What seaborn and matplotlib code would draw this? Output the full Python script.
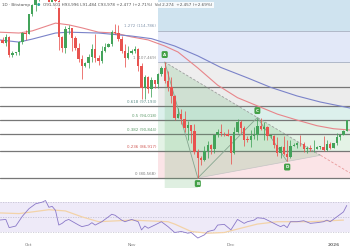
import matplotlib
matplotlib.use("Agg")
import matplotlib.pyplot as plt
import matplotlib.dates as mdates
import numpy as np
import pandas as pd
import seaborn as sns

# ---------------- data ----------------
dates = pd.date_range("2025-09-22", "2026-01-05", freq="D")

opens_k = [115.3, 112.7, 112.0, 113.3, 109.0, 109.6, 109.7, 112.1, 114.3,
           114.0, 118.6, 120.6, 122.3, 122.4, 123.5, 124.7, 121.4, 123.3, 121.7,
           113.2, 110.7, 115.2, 115.3, 113.1, 110.8, 108.2, 106.5, 107.2, 108.6,
           110.6, 108.5, 107.6, 110.1, 111.0, 111.6, 114.5, 114.1, 112.9, 110.1, 108.3,
           109.6, 110.1, 110.6, 106.5, 101.5, 103.9, 101.3, 103.3, 102.3, 104.7,
           106.0, 103.0, 101.6, 99.7, 94.5, 95.5, 94.2, 92.2, 92.9, 91.5,
           86.6, 85.1, 84.7, 86.8, 88.3, 87.4, 90.5, 91.3, 90.9, 90.8,
           90.4, 86.3, 91.3, 93.5, 92.1, 89.4, 89.3, 90.4, 90.6, 92.7,
           92.0, 92.5, 90.3, 90.3, 88.2, 86.4, 87.8, 86.1, 85.5, 88.1,
           88.3, 88.6, 88.5, 87.4, 87.6, 87.2, 87.3, 87.8, 87.8, 87.1, 88.4,
           87.5, 88.7, 90.0, 90.6, 91.501]
highs_k = [115.4, 113.3, 113.9, 113.5, 110.0, 109.8, 112.3, 114.4, 114.8,
           118.6, 121.0, 123.9, 122.9, 125.5, 126.2, 125.1, 124.1, 123.7, 122.5,
           113.5, 115.8, 116.0, 115.4, 113.6, 111.8, 109.2, 107.5, 109.4, 111.7,
           114.0, 109.2, 111.2, 112.0, 111.9, 115.0, 116.3, 116.0, 113.6, 111.6, 111.2,
           110.5, 111.2, 110.8, 107.3, 104.5, 104.2, 104.0, 103.4, 105.0, 106.6,
           107.469, 105.3, 104.0, 99.8, 96.8, 96.6, 96.0, 93.8, 92.9, 93.1,
           87.4, 85.6, 88.0, 89.2, 88.5, 90.6, 91.9, 93.0, 91.2, 92.0,
           90.4, 92.3, 94.2, 94.1, 92.7, 90.3, 91.8, 92.3, 94.6, 94.5,
           93.5, 92.7, 90.6, 90.5, 90.0, 88.1, 90.3, 89.4, 89.3, 88.6,
           89.0, 90.5, 88.9, 88.0, 88.3, 89.5, 88.0, 88.0, 90.3, 89.3, 89.0,
           88.8, 90.9, 90.8, 91.8, 93.996]
lows_k = [112.0, 111.8, 111.1, 108.7, 108.6, 109.1, 109.2, 111.6, 112.7,
          113.9, 118.2, 119.4, 121.7, 122.0, 123.1, 120.6, 121.1, 119.9, 110.3,
          109.7, 109.6, 113.9, 110.0, 110.2, 107.5, 103.5, 106.4, 106.1, 107.5,
          107.4, 106.7, 107.3, 109.7, 110.9, 111.3, 114.0, 112.3, 109.6, 106.3, 108.1,
          109.4, 109.6, 105.3, 98.9, 98.9, 100.3, 99.3, 101.5, 101.4, 104.3,
          102.5, 100.8, 98.0, 94.0, 94.5, 93.0, 91.2, 89.3, 88.6, 86.2,
          80.568, 83.5, 84.6, 85.3, 86.1, 86.3, 90.1, 90.2, 90.3, 90.3,
          83.8, 86.2, 91.0, 90.9, 88.1, 88.9, 87.7, 89.6, 89.5, 91.6,
          89.3, 89.5, 89.8, 87.6, 85.6, 85.3, 85.9, 84.4, 85.2, 87.9,
          87.6, 87.9, 86.6, 86.4, 86.9, 86.7, 87.2, 87.4, 86.8, 86.8, 87.2,
          87.5, 88.3, 89.3, 90.5, 91.484]
closes_k = [112.7, 112.0, 113.3, 109.0, 109.6, 109.7, 112.1, 114.3, 114.0,
            118.6, 120.6, 122.3, 122.4, 123.5, 124.7, 121.4, 123.3, 121.7, 113.2,
            110.7, 115.2, 115.3, 113.1, 110.8, 108.2, 106.5, 107.2, 108.6, 110.6,
            108.5, 107.6, 110.1, 111.0, 111.6, 114.5, 114.1, 112.9, 110.1, 108.3, 109.6,
            110.1, 110.6, 106.5, 101.5, 103.9, 101.3, 103.3, 102.3, 104.7, 106.0,
            103.0, 101.6, 99.7, 94.5, 95.5, 94.2, 92.2, 92.9, 91.5, 86.6,
            85.1, 84.7, 86.8, 88.3, 87.4, 90.5, 91.3, 90.9, 90.8, 90.4,
            86.3, 91.3, 93.5, 92.1, 89.4, 89.3, 90.4, 90.6, 92.7, 92.0,
            92.5, 90.3, 90.3, 88.2, 86.4, 87.8, 86.1, 85.5, 88.1, 88.3,
            88.6, 88.5, 87.4, 87.6, 87.2, 87.3, 87.8, 87.8, 87.1, 88.4, 87.5,
            88.7, 90.0, 90.6, 91.5, 93.978]

ema_fast_dates = ["2025-09-22", "2025-09-28", "2025-10-02", "2025-10-09", "2025-10-13",
                  "2025-10-17", "2025-10-22", "2025-10-27", "2025-11-01", "2025-11-06",
                  "2025-11-11", "2025-11-15", "2025-11-21", "2025-11-27", "2025-12-03",
                  "2025-12-09", "2025-12-15", "2025-12-21", "2025-12-27", "2026-01-01",
                  "2026-01-06"]
ema_fast_k = [114.4, 114.2, 114.7, 116.5, 116.1, 115.4, 114.4, 114.2, 113.3, 112.6,
              111.2, 109.8, 106.1, 102.1, 99.2, 97.3, 95.4, 94.0, 92.7, 92.0, 91.7]

ema_slow_dates = ["2025-09-22", "2025-09-28", "2025-10-02", "2025-10-09", "2025-10-13",
                  "2025-10-22", "2025-11-01", "2025-11-07", "2025-11-14", "2025-11-21",
                  "2025-11-28", "2025-12-06", "2025-12-13", "2025-12-21", "2025-12-28",
                  "2026-01-06"]
ema_slow_k = [112.6, 112.1, 112.8, 114.2, 114.4, 114.2, 113.5, 112.9, 111.2, 108.9,
              106.2, 103.8, 101.6, 99.6, 98.2, 96.8]

rsi_dates = ["2025-09-22", "2025-09-24", "2025-09-25", "2025-09-27", "2025-09-29",
             "2025-10-01", "2025-10-03", "2025-10-05", "2025-10-06", "2025-10-07",
             "2025-10-08", "2025-10-09", "2025-10-10", "2025-10-11", "2025-10-12",
             "2025-10-13", "2025-10-16", "2025-10-17", "2025-10-19", "2025-10-20",
             "2025-10-21", "2025-10-23", "2025-10-25", "2025-10-26", "2025-10-27",
             "2025-10-29", "2025-10-30", "2025-11-01", "2025-11-03", "2025-11-04",
             "2025-11-05", "2025-11-06", "2025-11-08", "2025-11-10", "2025-11-12",
             "2025-11-14", "2025-11-16", "2025-11-18", "2025-11-19", "2025-11-21",
             "2025-11-23", "2025-11-24", "2025-11-26", "2025-11-27", "2025-11-29",
             "2025-12-01", "2025-12-03", "2025-12-05", "2025-12-06", "2025-12-08",
             "2025-12-09", "2025-12-11", "2025-12-13", "2025-12-15", "2025-12-16",
             "2025-12-17", "2025-12-18", "2025-12-19", "2025-12-21", "2025-12-23",
             "2025-12-25", "2025-12-27", "2025-12-29", "2025-12-30", "2025-12-31",
             "2026-01-02", "2026-01-04", "2026-01-05"]
rsi_vals = [46.3, 47.2, 36.4, 38.5, 51.4, 61.4, 67.8, 70.0, 72.1, 63.2,
            64.4, 59.2, 39.8, 42.0, 45.5, 47.2, 39.8, 37.7, 39.8, 42.9,
            39.8, 44.2, 50.6, 54.0, 52.7, 46.3, 44.2, 47.2, 44.2, 33.4,
            38.5, 35.6, 39.8, 44.2, 37.7, 30.0, 31.3, 29.1, 30.0, 22.7,
            26.9, 31.3, 33.4, 39.8, 40.7, 33.4, 47.2, 42.0, 44.2, 46.3,
            49.4, 48.5, 44.2, 39.8, 37.7, 39.8, 36.4, 44.2, 44.2, 45.5,
            42.0, 42.9, 44.2, 46.3, 44.2, 50.6, 57.1, 65.6]

rsi_ma_dates = ["2025-09-22", "2025-09-28", "2025-10-02", "2025-10-07", "2025-10-12",
                "2025-10-17", "2025-10-22", "2025-11-01", "2025-11-12", "2025-11-14",
                "2025-11-19", "2025-11-24", "2025-11-29", "2025-12-04", "2025-12-09",
                "2025-12-15", "2025-12-25", "2026-01-04"]
rsi_ma_vals = [55.8, 54.9, 57.1, 60.0, 58.4, 50.6, 44.2, 46.3, 44.2, 41.1,
               31.3, 29.1, 30.0, 35.6, 41.1, 44.2, 44.2, 46.3]

swing_high = 107469   # point A
swing_low = 80568     # point B
fib_ratios = [0, 0.236, 0.382, 0.5, 0.618, 0.786, 1, 1.272]
fib_names = ["0", "0.236", "0.382", "0.5", "0.618", None, "1", "1.272"]
fib_start = "2025-11-09"

pattern_names = ["A", "B", "C", "D"]
pattern_dates = ["2025-11-11", "2025-11-21", "2025-12-09", "2025-12-18"]
pattern_prices = [107469, 80568, 94600, 84400]

month_ticks = ["2025-10-01", "2025-11-01", "2025-12-01", "2026-01-01"]
month_labels = ["Oct", "Nov", "Dec", "2026"]

header_left = "1D · Bitstamp"
header_right = "O91,501 H93,996 L91,484 C93,978 +2,477 (+2.71%)  Vol 2.274  +2,457 (+2.69%)"

# ---------------- styling ----------------
sns.set_theme(style="white")
plt.rcParams["font.family"] = ["DejaVu Sans"]

UP, DOWN = "#43a35a", "#e8534f"
W, H = 350, 250

fig = plt.figure(figsize=(3.5, 2.5), dpi=100)
fig.patch.set_facecolor("white")
ax = fig.add_axes([0, 1 - 188 / H, 1, 188 / H])
axr = fig.add_axes([0, 1 - 240 / H, 1, 46 / H])
for a in (ax, axr):
    a.set_facecolor("white")
    for s in a.spines.values():
        s.set_visible(False)

xn = mdates.date2num(dates)
o = np.array(opens_k) * 1000
h = np.array(highs_k) * 1000
l = np.array(lows_k) * 1000
c = np.array(closes_k) * 1000

oct1 = mdates.date2num(pd.Timestamp("2025-10-01"))
x_lo, x_hi = oct1 - 8.76, oct1 + 96.98
y_lo, y_hi = 78248, 121864

# ---- fib retracement fills ----
rng = swing_high - swing_low
levels = [swing_low + r * rng for r in fib_ratios]
fs = mdates.date2num(pd.Timestamp(fib_start))
fill_cols = ["#fbe4e7", "#e4f3e6", "#e1f2e6", "#dcf0ec", "#ececec", "#eeeeee", "#e2e8f8", "#cfe3ef"]
bounds = levels + [y_hi]
for i in range(len(levels)):
    ax.fill_between([fs, x_hi], bounds[i], bounds[i + 1], color=fill_cols[i], lw=0, zorder=0)

for r, lev, name in zip(fib_ratios, levels, fib_names):
    if r <= 0.786:
        ax.axhline(lev, color="#777777", lw=0.9, zorder=1)
    else:
        ax.plot([fs, x_hi], [lev, lev], color="#b0b8c8", lw=0.7, zorder=1)

label_cols = {"0": "#7a7a7a", "0.236": "#d05a55", "0.382": "#5d9a6a", "0.5": "#5d9a6a",
              "0.618": "#5f8f8a", "1": "#8a8a8a", "1.272": "#8396ad"}
for lev, name in zip(levels, fib_names):
    if name is None:
        continue
    ax.annotate(f"{name} ({lev:,.0f})", xy=(fs, lev), xytext=(-1.5, 1.5),
                textcoords="offset points", ha="right", va="bottom",
                fontsize=2.9, color=label_cols[name], zorder=5)

# ---- triangle pattern ----
px = [mdates.date2num(pd.Timestamp(d)) for d in pattern_dates]
py = pattern_prices
(ax_, ay), (bx, by), (cx, cy), (dx, dy) = zip(px, py)
m1 = (cy - ay) / (cx - ax_)
m2 = (dy - by) / (dx - bx)
apx = (by - ay + m1 * ax_ - m2 * bx) / (m1 - m2)
apy = ay + m1 * (apx - ax_)
ax.fill([ax_, apx, bx, bx, ax_], [ay, apy, by, y_lo, y_lo],
        color="#5fb36a", alpha=0.2, lw=0, zorder=1.5)
ax.plot([ax_, apx], [ay, apy], color="#9e9e9e", lw=0.6, ls=(0, (3, 2)), zorder=2.5)
ax.plot([apx, x_hi], [apy, ay + m1 * (x_hi - ax_)], color="#e99a9a", lw=0.6,
        ls=(0, (3, 2)), zorder=2.5)
ax.plot([bx, apx], [by, apy], color="#c4c4c4", lw=0.5, zorder=2.5)
ax.plot([ax_, bx, cx, dx], [ay, by, cy, dy], color="#86a790", lw=0.6, zorder=2.5)

# ---- moving averages ----
sns.lineplot(x=pd.to_datetime(ema_fast_dates), y=np.array(ema_fast_k) * 1000, ax=ax,
             color="#e8858a", lw=0.8, zorder=2)
sns.lineplot(x=pd.to_datetime(ema_slow_dates), y=np.array(ema_slow_k) * 1000, ax=ax,
             color="#7b83c9", lw=0.8, zorder=2)

# ---- candles ----
cols = np.where(c >= o, UP, DOWN)
ax.vlines(xn, l, h, colors=cols, lw=0.55, zorder=3)
body = np.where(np.abs(c - o) < 180, 180, c - o)
ax.bar(xn, body, bottom=o, width=0.72, color=cols, lw=0, zorder=3.1)

# ---- pattern point labels ----
offsets = {"A": 5.4, "B": -4.0, "C": 5.0, "D": -4.0}
for n, x_, y_ in zip(pattern_names, px, py):
    ax.annotate(n, xy=(x_, y_), xytext=(0, offsets[n]), textcoords="offset points",
                ha="center", va="center", fontsize=3.0, color="white", fontweight="bold",
                bbox=dict(boxstyle="round,pad=0.35", fc="#43a047", ec="none"), zorder=6)

ax.set_xlim(x_lo, x_hi)
ax.set_ylim(y_lo, y_hi)
ax.set_xticks([])
ax.set_yticks([])
ax.set_xlabel("")
ax.set_ylabel("")

# ---- RSI pane ----
axr.axhspan(30, 70, color="#eeeaf8", lw=0, zorder=0)
for lvl in (30, 50, 70):
    axr.axhline(lvl, color="#b7b4c8", lw=0.45, ls=(0, (2, 2)), zorder=1)
sns.lineplot(x=pd.to_datetime(rsi_ma_dates), y=rsi_ma_vals, ax=axr,
             color="#f3d3a8", lw=0.9, zorder=2)
sns.lineplot(x=pd.to_datetime(rsi_dates), y=rsi_vals, ax=axr,
             color="#8a78c8", lw=0.6, zorder=3)
axr.set_xlim(x_lo, x_hi)
axr.set_ylim(20.1, 80.7)
axr.set_yticks([])
axr.set_ylabel("")
axr.set_xlabel("")
axr.set_xticks(mdates.date2num(pd.to_datetime(month_ticks)))
axr.set_xticklabels(month_labels)
axr.tick_params(axis="x", length=0, pad=2.0, labelsize=3.2, labelcolor="#777777")
for t in axr.get_xticklabels():
    if t.get_text().isdigit():
        t.set_fontweight("bold")

# ---- header ----
fig.text(2 / W, 1 - 5 / H, header_left, fontsize=3.0, color="#555555", va="center",
         bbox=dict(boxstyle="square,pad=0.3", fc="white", ec="none", alpha=0.85))
fig.text(37 / W, 1 - 5 / H, "●", fontsize=2.8, color="#26a69a", va="center")
fig.text(43 / W, 1 - 5 / H, header_right, fontsize=3.0, color="#555555", va="center",
         bbox=dict(boxstyle="square,pad=0.3", fc="white", ec="none", alpha=0.85))

fig.savefig("out.png", dpi=100)
